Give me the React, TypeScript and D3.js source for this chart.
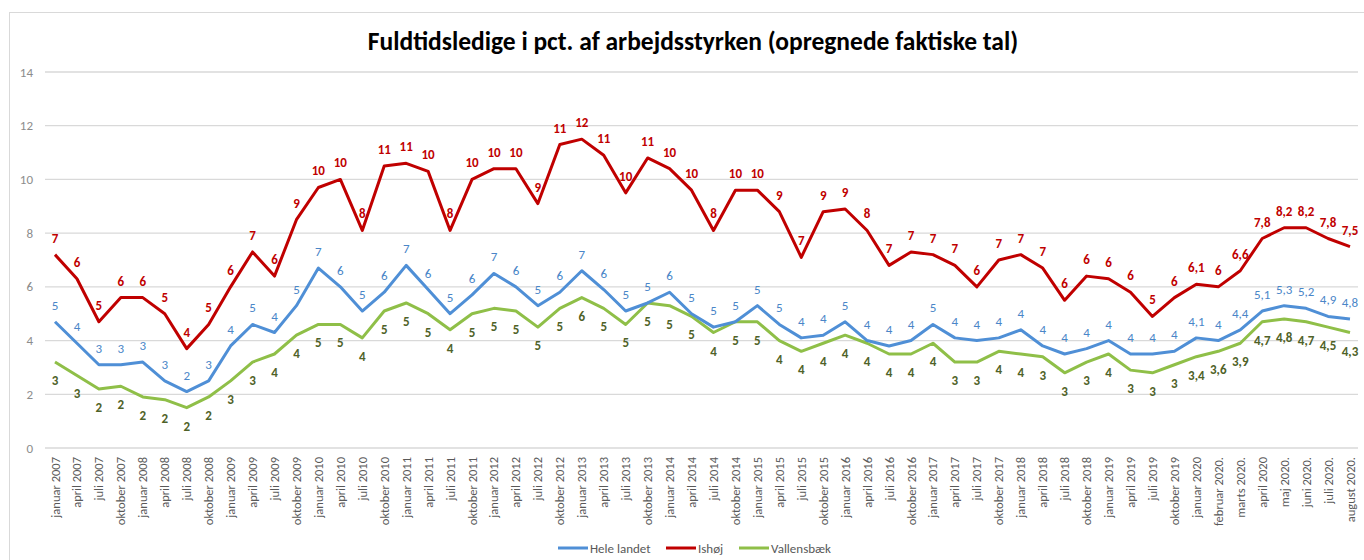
import React, { useEffect, useRef } from "react";
import * as d3 from "d3";

const categories: string[] = [
  "januar 2007", "april 2007", "juli 2007", "oktober 2007",
  "januar 2008", "april 2008", "juli 2008", "oktober 2008",
  "januar 2009", "april 2009", "juli 2009", "oktober 2009",
  "januar 2010", "april 2010", "juli 2010", "oktober 2010",
  "januar 2011", "april 2011", "juli 2011", "oktober 2011",
  "januar 2012", "april 2012", "juli 2012", "oktober 2012",
  "januar 2013", "april 2013", "juli 2013", "oktober 2013",
  "januar 2014", "april 2014", "juli 2014", "oktober 2014",
  "januar 2015", "april 2015", "juli 2015", "oktober 2015",
  "januar 2016", "april 2016", "juli 2016", "oktober 2016",
  "januar 2017", "april 2017", "juli 2017", "oktober 2017",
  "januar 2018", "april 2018", "juli 2018", "oktober 2018",
  "januar 2019", "april 2019", "juli 2019", "oktober 2019",
  "januar 2020", "februar 2020.", "marts 2020.", "april 2020",
  "maj 2020.", "juni 2020.", "juli 2020.", "august 2020.",
];

const heleLandet: number[] = [
  4.7, 3.9, 3.1, 3.1, 3.2, 2.5, 2.1, 2.5, 3.8, 4.6, 4.3, 5.3,
  6.7, 6.0, 5.1, 5.8, 6.8, 5.9, 5.0, 5.7, 6.5, 6.0, 5.3, 5.8,
  6.6, 5.9, 5.1, 5.4, 5.8, 5.0, 4.5, 4.7, 5.3, 4.6, 4.1, 4.2,
  4.7, 4.0, 3.8, 4.0, 4.6, 4.1, 4.0, 4.1, 4.4, 3.8, 3.5, 3.7,
  4.0, 3.5, 3.5, 3.6, 4.1, 4.0, 4.4, 5.1, 5.3, 5.2, 4.9, 4.8,
];

const ishoj: number[] = [
  7.2, 6.3, 4.7, 5.6, 5.6, 5.0, 3.7, 4.6, 6.0, 7.3, 6.4, 8.5,
  9.7, 10.0, 8.1, 10.5, 10.6, 10.3, 8.1, 10.0, 10.4, 10.4, 9.1, 11.3,
  11.5, 10.9, 9.5, 10.8, 10.4, 9.6, 8.1, 9.6, 9.6, 8.8, 7.1, 8.8,
  8.9, 8.1, 6.8, 7.3, 7.2, 6.8, 6.0, 7.0, 7.2, 6.7, 5.5, 6.4,
  6.3, 5.8, 4.9, 5.6, 6.1, 6.0, 6.6, 7.8, 8.2, 8.2, 7.8, 7.5,
];

const vallensbaek: number[] = [
  3.2, 2.7, 2.2, 2.3, 1.9, 1.8, 1.5, 1.9, 2.5, 3.2, 3.5, 4.2,
  4.6, 4.6, 4.1, 5.1, 5.4, 5.0, 4.4, 5.0, 5.2, 5.1, 4.5, 5.2,
  5.6, 5.2, 4.6, 5.4, 5.3, 4.9, 4.3, 4.7, 4.7, 4.0, 3.6, 3.9,
  4.2, 3.9, 3.5, 3.5, 3.9, 3.2, 3.2, 3.6, 3.5, 3.4, 2.8, 3.2,
  3.5, 2.9, 2.8, 3.1, 3.4, 3.6, 3.9, 4.7, 4.8, 4.7, 4.5, 4.3,
];

const yTicks: number[] = [0, 2, 4, 6, 8, 10, 12, 14];

const seriesNames: string[] = ["Hele landet", "Ishøj", "Vallensbæk"];

const title = "Fuldtidsledige i pct. af arbejdsstyrken (opregnede faktiske tal)";

// index from which labels are shown with decimals
const DECIMAL_FROM = 52;

export default function App() {
  const ref = useRef<SVGSVGElement | null>(null);

  useEffect(() => {
    const W = 1364;
    const H = 560;
    const svg = d3.select(ref.current);
    svg.selectAll("*").remove();

    const font = "Calibri, Carlito, 'Open Sans', 'Liberation Sans', sans-serif";

    // chart border
    svg.append("rect")
      .attr("x", 9.5).attr("y", 12.5)
      .attr("width", W - 9).attr("height", H)
      .attr("fill", "#fff").attr("stroke", "#d9d9d9");

    const x = d3.scalePoint<number>()
      .domain(d3.range(categories.length))
      .range([55, 1350]);
    const y = d3.scaleLinear().domain([0, 14]).range([448, 72]);

    // title
    svg.append("text")
      .attr("x", 693).attr("y", 50)
      .attr("text-anchor", "middle")
      .attr("font-family", font)
      .attr("font-weight", "bold")
      .attr("font-size", 25.5)
      .attr("fill", "#000")
      .text(title);

    // grid
    const grid = svg.append("g");
    grid.selectAll("line").data(yTicks).join("line")
      .attr("x1", 45).attr("x2", 1358)
      .attr("y1", (d) => y(d)).attr("y2", (d) => y(d))
      .attr("stroke", "#d9d9d9").attr("stroke-width", 1.3);

    grid.selectAll("text").data(yTicks).join("text")
      .attr("x", 33).attr("y", (d) => y(d) + 4.5)
      .attr("text-anchor", "end")
      .attr("font-family", font)
      .attr("font-size", 13)
      .attr("fill", "#8c8c8c")
      .text((d) => String(d));

    // x labels
    const xl = svg.append("g");
    xl.selectAll("text").data(categories).join("text")
      .attr("transform", (_d, i) => `translate(${x(i)! + 4.5},457) rotate(-90)`)
      .attr("text-anchor", "end")
      .attr("font-family", font)
      .attr("font-size", 12.5)
      .attr("fill", "#595959")
      .text((d) => d);

    const fmt = (v: number, i: number) => {
      if (i >= DECIMAL_FROM) {
        return Number.isInteger(v) ? String(v) : v.toFixed(1).replace(".", ",");
      }
      return String(Math.round(v));
    };

    const series = [
      { name: seriesNames[0], values: heleLandet, color: "#4f8fd6", labelColor: "#4a86c8", weight: "normal", below: false },
      { name: seriesNames[1], values: ishoj, color: "#c00000", labelColor: "#c00000", weight: "bold", below: false },
      { name: seriesNames[2], values: vallensbaek, color: "#8fbf48", labelColor: "#4f6228", weight: "bold", below: true },
    ];

    const line = d3.line<number>()
      .x((_d, i) => x(i)!)
      .y((d) => y(d));

    [series[2], series[0], series[1]].forEach((s) => {
      svg.append("path")
        .datum(s.values)
        .attr("d", line)
        .attr("fill", "none")
        .attr("stroke", s.color)
        .attr("stroke-width", 3)
        .attr("stroke-linejoin", "round");
    });

    series.forEach((s) => {
      const g = svg.append("g");
      g.selectAll("text").data(s.values).join("text")
        .attr("x", (_d, i) => x(i)!)
        .attr("y", (d) => y(d) + (s.below ? 23 : -12))
        .attr("text-anchor", "middle")
        .attr("font-family", font)
        .attr("font-size", 13)
        .attr("font-weight", s.weight)
        .attr("fill", s.labelColor)
        .text((d, i) => fmt(d, i));
    });

    // legend
    const legendX = [558, 666, 739];
    const lg = svg.append("g");
    series.forEach((s, i) => {
      lg.append("line")
        .attr("x1", legendX[i]).attr("x2", legendX[i] + 30)
        .attr("y1", 548).attr("y2", 548)
        .attr("stroke", s.color).attr("stroke-width", 3);
      lg.append("text")
        .attr("x", legendX[i] + 32).attr("y", 552.5)
        .attr("font-family", font)
        .attr("font-size", 13)
        .attr("fill", "#595959")
        .text(s.name);
    });
  }, []);

  return (
    <svg
      ref={ref}
      width={1364}
      height={560}
      style={{ position: "absolute", left: 0, top: 0, background: "#fff" }}
    />
  );
}
